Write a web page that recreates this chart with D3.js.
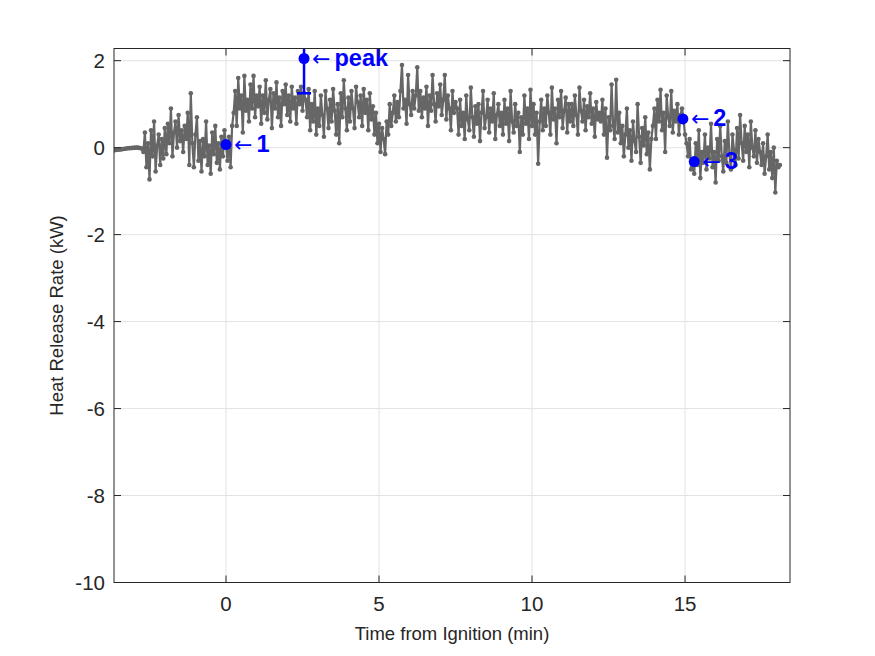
<!DOCTYPE html>
<html>
<head>
<meta charset="utf-8">
<script src="https://cdn.jsdelivr.net/npm/d3@7"></script>
<style>
  html, body { margin: 0; padding: 0; background: #ffffff; }
  svg { display: block; }
</style>
</head>
<body>
<svg id="chart" width="875" height="656"></svg>
<script>
// ---------------- data ----------------
const timeStart = -3.65;   // min, first sample
const timeStep = 0.05;     // min between samples
const hrrValues = [
  // -3.65 .. -2.75 (pre-ignition, smooth)
  -0.06,-0.055,-0.05,-0.045,-0.04,-0.035,-0.03,-0.025,-0.02,-0.015,-0.01,-0.01,-0.005,-0.005,0,0,-0.005,-0.01,-0.02,
  // -2.70 .. -2.05
  -0.1,0.35,-0.45,0.1,-0.73,0.4,-0.2,0.6,-0.55,0.05,0.3,-0.4,0.2,-0.25,
  // -2.00 .. -1.40
  0.45,-0.15,0.55,0.1,0.9,-0.2,0.35,0.6,0.0,0.75,0.15,0.4,-0.1,
  // -1.35 .. -1.15
  0.5,0.2,0.8,-0.4,1.25,
  // -1.10 .. -0.05
  0.1,-0.45,0.3,0.7,-0.3,0.15,-0.55,0.2,-0.2,0.6,-0.4,0.05,-0.6,0.35,-0.15,0.5,-0.35,0.1,-0.5,0.25,-0.2,0.4,
  // 0.00 .. 0.20
  0.07,-0.3,0.25,-0.45,0.5,
  // 0.25 .. 1.00
  0.8,1.3,0.5,1.6,0.9,1.2,0.35,1.65,0.85,1.1,0.6,1.45,0.9,1.65,0.7,1.2,
  // 1.05 .. 2.00
  0.95,1.4,0.55,1.2,0.8,1.55,0.65,1.1,1.35,0.45,1.25,0.9,1.5,0.7,1.15,0.5,1.3,1.0,1.45,0.75,
  // 2.05 .. 2.55
  1.2,0.6,1.4,0.9,1.15,0.55,1.3,1.0,1.4,0.85,1.25,
  // 2.60 .. 3.00
  1.1,0.7,1.35,0.4,1.0,0.6,1.3,0.3,0.9,
  // 3.05 .. 4.00
  0.5,1.2,0.75,0.25,1.3,0.9,0.45,1.1,0.6,1.35,0.85,0.3,1.0,0.1,1.25,0.7,1.55,0.9,0.4,1.15,
  // 4.05 .. 4.80
  0.6,1.3,0.9,0.45,1.4,1.05,0.7,1.2,0.5,1.35,0.8,1.1,0.4,1.25,0.65,0.95,
  // 4.85 .. 5.40
  0.3,0.8,0.1,0.55,-0.1,0.45,0.2,-0.15,0.6,0.3,1.0,0.5,
  // 5.45 .. 6.30
  0.8,1.2,0.6,1.05,0.7,1.3,1.9,0.9,1.1,0.55,1.67,1.0,0.75,1.3,0.9,1.2,1.85,0.85,
  // 6.35 .. 7.50
  1.3,0.7,1.15,0.9,1.4,0.5,1.2,0.85,1.67,1.0,0.6,1.25,0.95,1.45,0.75,1.1,1.67,0.65,1.2,0.9,0.4,1.3,0.8,1.05,
  // 7.55 .. 8.95
  0.9,0.3,1.1,0.5,0.8,0.2,1.2,0.65,0.4,1.38,0.7,0.25,0.95,0.55,1.0,0.15,0.8,1.3,0.45,0.7,1.1,0.35,0.9,0.6,1.25,0.2,0.75,1.0,0.5,
  // 9.00 .. 9.95
  0.8,0.3,1.1,0.55,0.9,0.15,1.3,0.6,0.35,1.0,0.5,0.8,-0.1,0.7,0.3,1.2,0.55,0.9,0.2,1.33,
  // 10.00 .. 10.40
  0.5,1.0,0.3,0.8,-0.37,0.6,1.1,0.4,0.9,
  // 10.45 .. 11.25
  0.5,1.2,0.8,0.3,1.38,0.65,0.9,0.1,1.1,0.7,1.3,0.45,0.85,1.15,0.35,1.0,0.6,
  // 11.30 .. 12.20
  1.0,0.5,1.2,0.75,0.3,1.38,0.85,0.6,1.1,0.4,0.95,0.7,1.25,0.55,0.9,0.25,1.05,0.65,0.8,
  // 12.25 .. 12.90
  0.6,1.1,0.3,0.9,-0.23,0.7,0.4,1.45,0.5,0.2,1.56,0.35,0.8,0.1,
  // 12.95 .. 13.90
  0.5,-0.2,0.3,0.9,0.0,0.4,-0.3,0.6,0.15,-0.1,1.0,0.25,-0.35,0.45,0.05,0.7,-0.15,0.35,-0.5,0.2,
  // 13.95 .. 14.90
  0.5,0.9,0.2,1.1,0.6,1.33,0.4,0.8,-0.1,1.2,0.7,0.5,1.3,0.35,0.85,0.6,1.0,0.3,0.75,0.9,
  // 14.95 .. 15.20
  0.66,0.3,0.1,-0.2,0.2,-0.5,
  // 15.25 .. 16.80
  -0.32,-0.6,0.1,-0.4,0.4,-0.7,-0.1,-0.35,0.3,-0.5,0.0,-0.25,0.55,-0.45,-0.1,-0.8,0.2,-0.3,0.5,-0.2,
  -0.55,0.15,-0.35,0.6,-0.15,-0.5,0.3,-0.05,-0.4,0.45,-0.25,0.75,
  // 16.85 .. 17.45
  0.1,-0.3,0.5,-0.1,0.3,-0.45,0.6,0.0,-0.2,0.4,-0.35,0.2,-0.1,
  // 17.50 .. 18.10
  -0.4,0.1,-0.6,-0.2,0.3,-0.5,-0.1,-0.7,0.0,-1.03,-0.3,-0.45,-0.4
];

const xTicks = [0, 5, 10, 15];
const yTicks = [2, 0, -2, -4, -6, -8, -10];
const xDomain = [-3.66, 18.43];
const yDomain = [-10, 2.28];

const markerLabels = ["1", "peak", "2", "3"];
const markerTimes  = [0, 2.55, 14.93, 15.3];
const markerValues = [0.07, 2.05, 0.66, -0.32];
const peakError = 0.8;

const xLabel = "Time from Ignition (min)";
const yLabel = "Heat Release Rate (kW)";

// ---------------- layout ----------------
const box = { left: 114, right: 790, top: 48.5, bottom: 582.5 };
const axisColor = "#262626";
const gridColor = "#e3e3e3";
const seriesColor = "#666666";
const markColor = "#0000ff";
const font = "'Liberation Sans', Arial, Helvetica, sans-serif";

const svg = d3.select("#chart");

const x = d3.scaleLinear().domain(xDomain).range([box.left, box.right]);
const y = d3.scaleLinear().domain(yDomain).range([box.bottom, box.top]);

const data = hrrValues.map((v, i) => ({ t: timeStart + i * timeStep, v }));

svg.append("defs").append("clipPath").attr("id", "plotClip")
  .append("rect")
  .attr("x", box.left).attr("y", box.top)
  .attr("width", box.right - box.left).attr("height", box.bottom - box.top);

// grid
const grid = svg.append("g");
grid.selectAll("line.gx").data(xTicks).join("line")
  .attr("x1", d => x(d)).attr("x2", d => x(d))
  .attr("y1", box.top).attr("y2", box.bottom)
  .attr("stroke", gridColor).attr("stroke-width", 1);
grid.selectAll("line.gy").data(yTicks).join("line")
  .attr("x1", box.left).attr("x2", box.right)
  .attr("y1", d => y(d)).attr("y2", d => y(d))
  .attr("stroke", gridColor).attr("stroke-width", 1);

// series
const plot = svg.append("g").attr("clip-path", "url(#plotClip)");
const line = d3.line().x(d => x(d.t)).y(d => y(d.v));
plot.append("path").datum(data)
  .attr("d", line)
  .attr("fill", "none")
  .attr("stroke", seriesColor)
  .attr("stroke-width", 2.2)
  .attr("stroke-linejoin", "round");
plot.selectAll("circle.pt").data(data).join("circle")
  .attr("class", "pt")
  .attr("cx", d => x(d.t)).attr("cy", d => y(d.v))
  .attr("r", 2.3)
  .attr("fill", seriesColor);

// peak error bar
const pk = 1;
const capHalf = 7;
plot.append("line")
  .attr("x1", x(markerTimes[pk])).attr("x2", x(markerTimes[pk]))
  .attr("y1", y(markerValues[pk] - peakError)).attr("y2", y(markerValues[pk] + peakError))
  .attr("stroke", markColor).attr("stroke-width", 2.5);
[markerValues[pk] - peakError, markerValues[pk] + peakError].forEach(v => {
  plot.append("line")
    .attr("x1", x(markerTimes[pk]) - capHalf).attr("x2", x(markerTimes[pk]) + capHalf)
    .attr("y1", y(v)).attr("y2", y(v))
    .attr("stroke", markColor).attr("stroke-width", 2.5);
});

// blue markers
const marks = markerLabels.map((l, i) => ({ l, t: markerTimes[i], v: markerValues[i] }));
plot.selectAll("circle.mk").data(marks).join("circle")
  .attr("class", "mk")
  .attr("cx", d => x(d.t)).attr("cy", d => y(d.v))
  .attr("r", 5.5)
  .attr("fill", markColor);

const lbl = svg.append("g");
marks.forEach(d => {
  const tx = lbl.append("text")
    .attr("x", x(d.t) + 8).attr("y", y(d.v) + 1.5)
    .attr("dominant-baseline", "middle")
    .attr("fill", markColor);
  tx.append("tspan").attr("font-family", "'DejaVu Sans', sans-serif")
    .attr("font-size", 22).attr("font-weight", "normal").text("\u2190");
  tx.append("tspan").attr("font-family", font).attr("dx", 4)
    .attr("font-size", 23.5).attr("font-weight", "bold").text(d.l);
});

// axes box
const ax = svg.append("g");
ax.append("rect")
  .attr("x", box.left).attr("y", box.top)
  .attr("width", box.right - box.left).attr("height", box.bottom - box.top)
  .attr("fill", "none").attr("stroke", axisColor).attr("stroke-width", 1);

const tickLen = 7;
xTicks.forEach(t => {
  ax.append("line").attr("x1", x(t)).attr("x2", x(t))
    .attr("y1", box.bottom).attr("y2", box.bottom - tickLen)
    .attr("stroke", axisColor);
  ax.append("line").attr("x1", x(t)).attr("x2", x(t))
    .attr("y1", box.top).attr("y2", box.top + tickLen)
    .attr("stroke", axisColor);
});
yTicks.forEach(v => {
  ax.append("line").attr("x1", box.left).attr("x2", box.left + tickLen)
    .attr("y1", y(v)).attr("y2", y(v)).attr("stroke", axisColor);
  ax.append("line").attr("x1", box.right).attr("x2", box.right - tickLen)
    .attr("y1", y(v)).attr("y2", y(v)).attr("stroke", axisColor);
});

// tick labels
ax.selectAll("text.xt").data(xTicks).join("text")
  .attr("x", d => x(d)).attr("y", box.bottom + 28.5)
  .attr("text-anchor", "middle")
  .attr("font-family", font).attr("font-size", 20.5)
  .attr("fill", axisColor)
  .text(d => d3.format("d")(d));
ax.selectAll("text.yt").data(yTicks).join("text")
  .attr("x", box.left - 9).attr("y", d => y(d))
  .attr("dominant-baseline", "central")
  .attr("text-anchor", "end")
  .attr("font-family", font).attr("font-size", 20.5)
  .attr("fill", axisColor)
  .text(d => d3.format("d")(d).replace("\u2212", "-"));

// axis labels
svg.append("text")
  .attr("x", (box.left + box.right) / 2).attr("y", 640)
  .attr("text-anchor", "middle")
  .attr("font-family", font).attr("font-size", 18.5)
  .attr("fill", axisColor)
  .text(xLabel);
svg.append("text")
  .attr("transform", `translate(63, ${(box.top + box.bottom) / 2}) rotate(-90)`)
  .attr("text-anchor", "middle")
  .attr("font-family", font).attr("font-size", 18.5)
  .attr("fill", axisColor)
  .text(yLabel);
</script>
</body>
</html>
